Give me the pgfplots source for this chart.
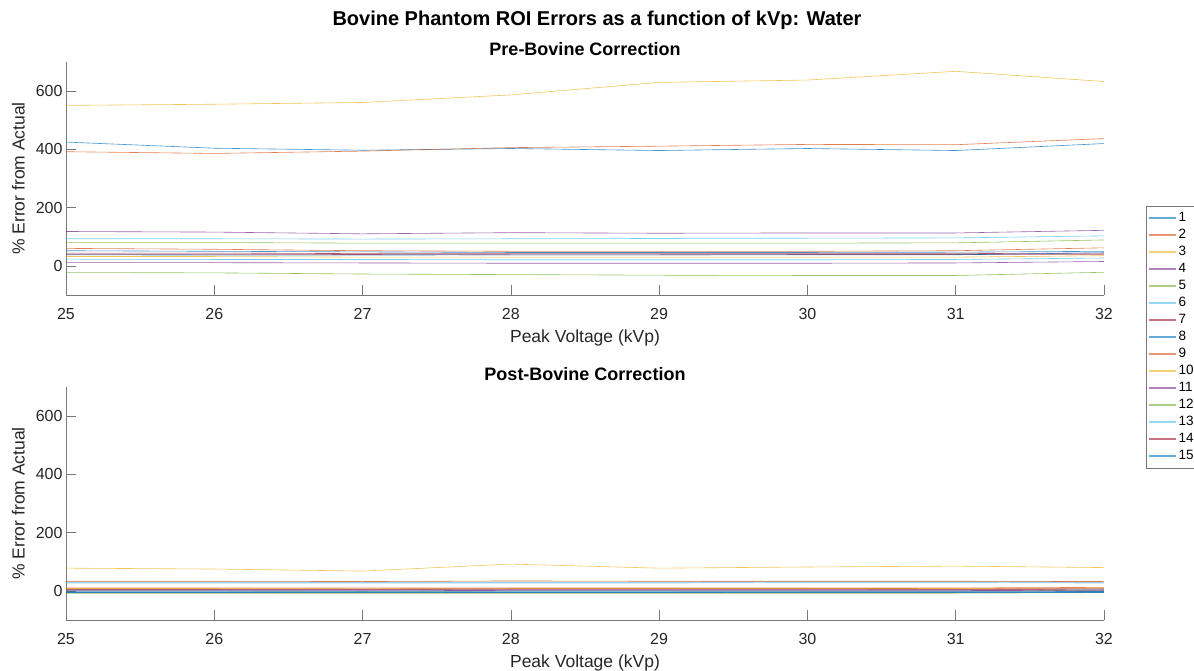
\documentclass[border=0pt]{standalone}
\usepackage{fontspec}
\setmainfont{Liberation Sans}
\usepackage{pgfplots}
\usepackage{pgfplotstable}
\pgfplotsset{compat=1.18}

\definecolor{c1}{RGB}{0,114,189}
\definecolor{c2}{RGB}{217,83,25}
\definecolor{c3}{RGB}{237,177,32}
\definecolor{c4}{RGB}{126,47,142}
\definecolor{c5}{RGB}{119,172,48}
\definecolor{c6}{RGB}{77,190,238}
\definecolor{c7}{RGB}{162,20,47}
\definecolor{axgray}{RGB}{120,120,120}
\definecolor{txt}{RGB}{38,38,38}

\pgfplotstableread{
x   s1  s2  s3  s4  s5  s6  s7  s8  s9  s10 s11 s12 s13 s14 s15
25  425 60  32  118 80  93  44  52  392 551 11  -23 23  40  38
26  404 57  32  116 80  93  44  50  386 555 11  -24 22  40  37
27  397 52  30  110 78  92  42  48  394 561 10  -28 22  39  37
28  403 50  30  114 78  93  42  46  406 587 9   -30 21  38  38
29  396 50  30  112 78  94  42  46  411 630 9   -32 21  38  38
30  403 50  30  113 78  95  42  46  417 638 9   -33 21  39  38
31  396 52  30  113 79  96  42  47  416 668 10  -33 22  39  38
32  420 62  35  122 89  103 44  50  437 633 15  -22 27  40  45
}\pre

\pgfplotstableread{
x   s1  s2  s3  s4  s5  s6  s7  s8  s9  s10 s11 s12 s13 s14 s15
25  30  10  8   -5  0   3   6   -3  33  78  2   -8  27  5   -6
26  30  10  8   -5  0   3   6   -3  33  75  2   -8  27  5   -6
27  30  10  7   -4  -1  3   6   -3  32  68  2   -8  27  5   -6
28  30  10  8   -5  0   3   7   -3  34  92  1   -8  27  5   -6
29  30  10  8   -5  0   3   7   -3  33  78  1   -8  27  5   -6
30  31  10  8   -4  0   3   7   -3  33  82  1   -8  28  5   -6
31  31  10  8   -4  0   3   6   -3  33  85  1   -8  28  5   -6
32  30  12  9   -3  2   4   7   -2  32  80  2   -6  27  6   -6
}\post

\pgfplotsset{
  myax/.style={
    scale only axis, width=1038pt, height=233pt,
    xmin=25, xmax=32, ymin=-100, ymax=700,
    xtick={25,26,...,32}, ytick={0,200,400,600},
    axis x line*=bottom, axis y line*=left,
    axis line style={axgray, line width=0.6pt, -},
    tick align=inside, major tick length=10pt,
    tick style={axgray, line width=0.6pt},
    /pgf/number format/assume math mode=true,
    ticklabel style={font=\fontsize{16}{19}\selectfont, text=txt},
    xticklabel style={yshift=-10pt},
    label style={font=\fontsize{17.5}{21}\selectfont, text=txt},
    xlabel shift=3pt, ylabel shift=4pt,
    xlabel={Peak Voltage (kVp)},
    ylabel={\% Error from Actual},
    every axis plot/.append style={line width=0.6pt, no markers, opacity=0.75},
    clip=false,
  }
}

\begin{document}
\begin{tikzpicture}
\begin{axis}[myax, at={(66pt,376pt)}, anchor=south west,
  legend style={at={(axis description cs:1.0405,0.382)}, anchor=north west,
    draw=axgray, fill=white, font=\fontsize{13.5}{15}\selectfont,
    inner xsep=2pt, inner ysep=3.5pt,
    nodes={text height=10pt, text depth=3pt, inner sep=2pt}},
  legend cell align=left,
  legend image code/.code={\draw[#1, line width=1.4pt, opacity=0.6] (0pt,0pt) -- (27pt,0pt);},
]
\addplot[c1] table[x=x,y=s1]{\pre};
\addplot[c2] table[x=x,y=s2]{\pre};
\addplot[c3] table[x=x,y=s3]{\pre};
\addplot[c4] table[x=x,y=s4]{\pre};
\addplot[c5] table[x=x,y=s5]{\pre};
\addplot[c6] table[x=x,y=s6]{\pre};
\addplot[c7] table[x=x,y=s7]{\pre};
\addplot[c1] table[x=x,y=s8]{\pre};
\addplot[c2] table[x=x,y=s9]{\pre};
\addplot[c3] table[x=x,y=s10]{\pre};
\addplot[c4] table[x=x,y=s11]{\pre};
\addplot[c5] table[x=x,y=s12]{\pre};
\addplot[c6] table[x=x,y=s13]{\pre};
\addplot[c7] table[x=x,y=s14]{\pre};
\addplot[c1] table[x=x,y=s15]{\pre};
\legend{1,2,3,4,5,6,7,8,9,10,11,12,13,14,15}
\end{axis}

\begin{axis}[myax, at={(66pt,51pt)}, anchor=south west]
\addplot[c1] table[x=x,y=s1]{\post};
\addplot[c2] table[x=x,y=s2]{\post};
\addplot[c3] table[x=x,y=s3]{\post};
\addplot[c4] table[x=x,y=s4]{\post};
\addplot[c5] table[x=x,y=s5]{\post};
\addplot[c6] table[x=x,y=s6]{\post};
\addplot[c7] table[x=x,y=s7]{\post};
\addplot[c1] table[x=x,y=s8]{\post};
\addplot[c2] table[x=x,y=s9]{\post};
\addplot[c3] table[x=x,y=s10]{\post};
\addplot[c4] table[x=x,y=s11]{\post};
\addplot[c5] table[x=x,y=s12]{\post};
\addplot[c6] table[x=x,y=s13]{\post};
\addplot[c7] table[x=x,y=s14]{\post};
\addplot[c1] table[x=x,y=s15]{\post};
\end{axis}

\node[font=\bfseries\fontsize{20}{24}\selectfont, text=black] at (597pt,651pt) {Bovine Phantom ROI Errors as a function of kVp: Water};
\node[font=\bfseries\fontsize{18}{21}\selectfont, text=black] at (585pt,622pt) {Pre-Bovine Correction};
\node[font=\bfseries\fontsize{18}{21}\selectfont, text=black] at (585pt,297pt) {Post-Bovine Correction};

\pgfresetboundingbox
\path[use as bounding box] (0pt,0pt) rectangle (1194pt,671pt);
\end{tikzpicture}
\end{document}
